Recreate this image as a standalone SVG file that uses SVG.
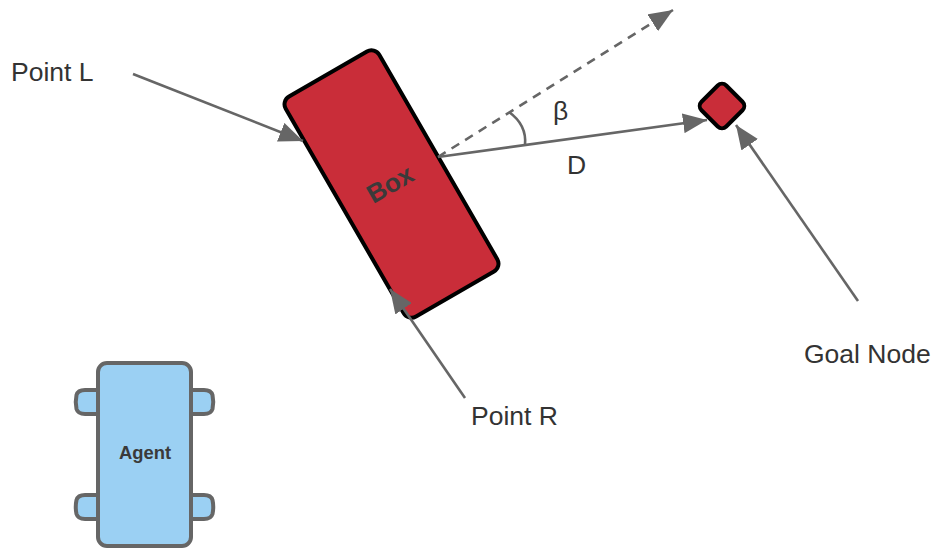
<svg xmlns="http://www.w3.org/2000/svg" width="934" height="551" viewBox="0 0 934 551">
<defs>
<style>
.lbl{font-family:"Liberation Sans",Arial,sans-serif;font-size:26.500px;fill:#333}
.c{fill:none;stroke:#666;stroke-width:2.600}
.w{fill:#9bd0f3;stroke:#666;stroke-width:4}
</style>
<marker id="a" markerUnits="userSpaceOnUse" markerWidth="26" markerHeight="20" refX="24" refY="10" orient="auto" viewBox="0 0 26 20"><path d="M0 0L24 10L0 20Z" fill="#666"/></marker>
</defs>
<rect width="934" height="551" fill="#fff"/>
<g id="box"><rect x="-54" y="-127" width="108" height="254" rx="9" transform="translate(391.500 184) rotate(-30)" fill="#c92d39" stroke="#000" stroke-width="4"/>
<text transform="translate(390 184) rotate(-30)" text-anchor="middle" y="9" font-family="Liberation Sans,Arial,sans-serif" font-weight="700" font-size="26" fill="#3a3a3a">Box</text></g>
<g id="goal-node"><rect x="-17.500" y="-17.500" width="35" height="35" rx="6" transform="translate(722 106) rotate(45)" fill="#c92d39" stroke="#000" stroke-width="4"/></g>
<g id="agent">
<path class="w" d="M98 390H85Q78 390 76.500 395Q75 402 76.500 409Q78 414 85 414H98Z"/>
<path class="w" d="M191 390H204Q211 390 212.500 395Q214 402 212.500 409Q211 414 204 414H191Z"/>
<path class="w" d="M98 495H85Q78 495 76.500 500Q75 507 76.500 514Q78 519 85 519H98Z"/>
<path class="w" d="M191 495H204Q211 495 212.500 500Q214 507 212.500 514Q211 519 204 519H191Z"/>
<rect x="98" y="363" width="93" height="183" rx="9" fill="#9bd0f3" stroke="#666" stroke-width="4"/>
<text x="145" y="459" text-anchor="middle" font-family="Liberation Sans,Arial,sans-serif" font-weight="700" font-size="18.400" fill="#3a3a3a">Agent</text></g>
<g id="connectors">
<path class="c" d="M133 74L303 141" marker-end="url(#a)"/>
<path class="c" d="M465 398L390 289" marker-end="url(#a)"/>
<path class="c" d="M858 301L736 125" marker-end="url(#a)"/>
<path class="c" d="M438 157L707 120" marker-end="url(#a)"/>
<path class="c" d="M438 157L673 10" stroke-dasharray="9 7" marker-end="url(#a)"/>
<path class="c" d="M509 112Q527 125 525 145"/>
</g>
<g id="labels">
<text class="lbl" x="11" y="81">Point L</text>
<text class="lbl" x="471" y="425">Point R</text>
<text class="lbl" x="804" y="363">Goal Node</text>
<text class="lbl" x="553" y="120">β</text>
<text class="lbl" x="567" y="174">D</text>
</g>
</svg>
